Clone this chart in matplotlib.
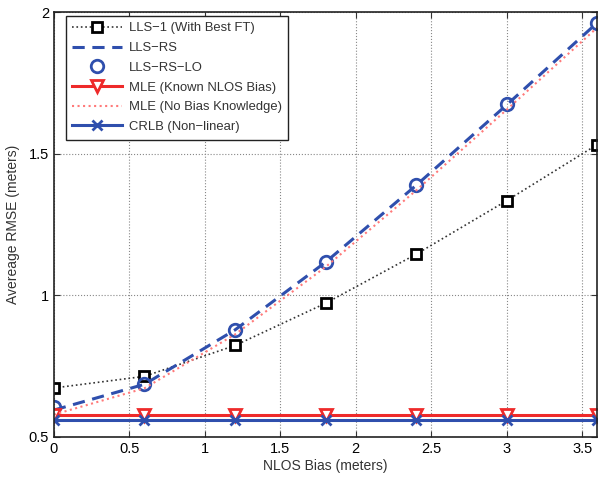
import matplotlib
matplotlib.use("Agg")
import matplotlib.pyplot as plt

plt.rcParams['font.family'] = ['Liberation Sans', 'DejaVu Sans']

x = [0, 0.6, 1.2, 1.8, 2.4, 3.0, 3.6]
lls1 = [0.673, 0.714, 0.823, 0.972, 1.145, 1.334, 1.532]
lls_rs = [0.595, 0.686, 0.878, 1.117, 1.388, 1.672, 1.962]
lls_rs_lo = [0.605, 0.688, 0.879, 1.118, 1.388, 1.674, 1.961]
mle_known = [0.579, 0.579, 0.579, 0.579, 0.579, 0.579, 0.579]
mle_nobias = [0.579, 0.672, 0.862, 1.100, 1.370, 1.655, 1.945]
crlb = [0.559, 0.559, 0.559, 0.559, 0.559, 0.559, 0.559]

blue = '#2f4fad'
red = '#ee2a2a'
pink = '#ff7a7a'

fig = plt.figure(figsize=(5.99, 4.8), dpi=100)
ax = fig.add_axes([0.090, 0.0896, 0.907, 0.8854])

ax.plot(x, lls1, ls=':', color='#333333', lw=1.2, marker='s', ms=7, mfc='white', mec='black', mew=2,
        label='LLS\u22121 (With Best FT)')
ax.plot(x, lls_rs, ls='--', color=blue, lw=2.2, dashes=(4, 2.5), label='LLS\u2212RS')
ax.plot(x, lls_rs_lo, ls='none', marker='o', ms=9, mfc='none', mec=blue, mew=2, label='LLS\u2212RS\u2212LO')
ax.plot(x, mle_known, ls='-', color=red, lw=2.2, marker='v', ms=9, mfc='white', mec=red, mew=2,
        label='MLE (Known NLOS Bias)')
ax.plot(x, mle_nobias, ls=':', color=pink, lw=1.5, label='MLE (No Bias Knowledge)')
ax.plot(x, crlb, ls='-', color=blue, lw=2.2, marker='x', ms=7, mew=2, label='CRLB (Non\u2212linear)')

ax.set_xlim(0, 3.6)
ax.set_ylim(0.5, 2)
ax.set_xticks([0, 0.5, 1, 1.5, 2, 2.5, 3, 3.5])
ax.set_xticklabels(['0', '0.5', '1', '1.5', '2', '2.5', '3', '3.5'])
ax.set_yticks([0.5, 1, 1.5, 2])
ax.set_yticklabels(['0.5', '1', '1.5', '2'])
ax.tick_params(direction='in', top=True, right=True, labelsize=10.5, length=4, color='#333333')
ax.grid(True, ls=':', color='#888888', lw=0.8)
for s in ax.spines.values():
    s.set_linewidth(1.2)
    s.set_color('#222222')

ax.set_xlabel('NLOS Bias (meters)', fontsize=10, color='#333333', labelpad=2)
ax.set_ylabel('Avereage RMSE (meters)', fontsize=10, color='#333333', labelpad=6)

leg = ax.legend(loc='upper left', bbox_to_anchor=(0.022, 0.991), borderaxespad=0, fontsize=9.4,
                fancybox=False, edgecolor='#222222', framealpha=1, handlelength=3.8, borderpad=0.5,
                labelspacing=0.58, handletextpad=0.5)
leg.get_frame().set_linewidth(1.0)
for t in leg.get_texts():
    t.set_color('#333333')

fig.savefig('out.png', dpi=100)
